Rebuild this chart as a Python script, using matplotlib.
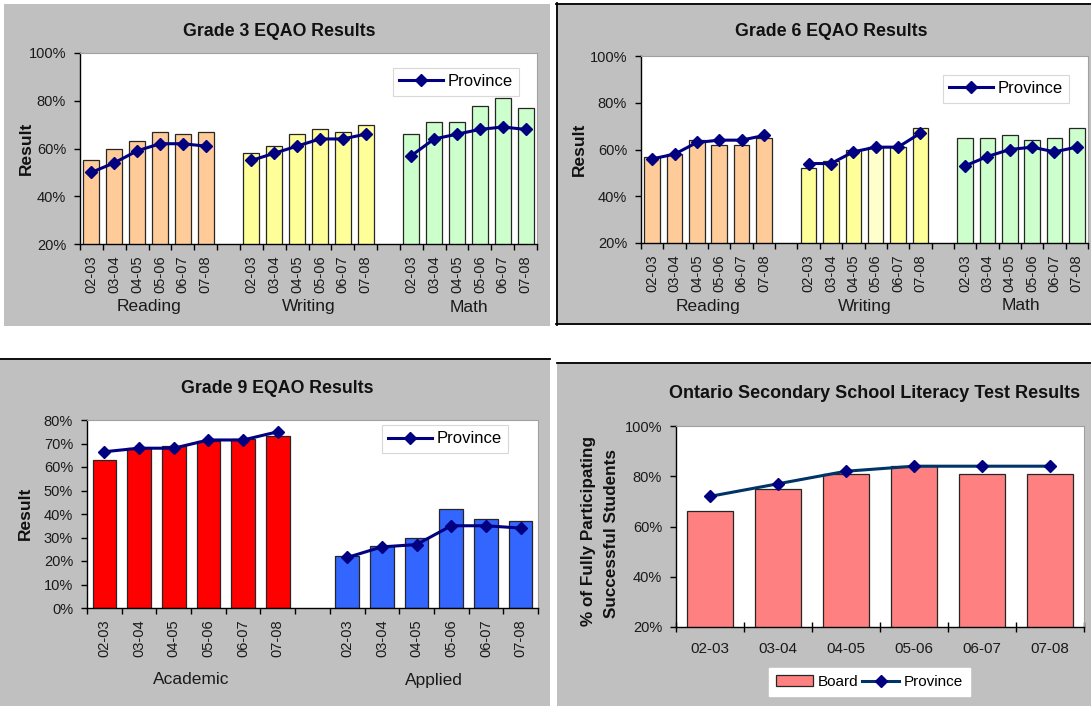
import numpy as np
import matplotlib
matplotlib.use('Agg')
import matplotlib.pyplot as plt
from matplotlib.patches import Rectangle, Patch
from matplotlib.lines import Line2D
from matplotlib.ticker import FuncFormatter, MultipleLocator
from matplotlib.transforms import Bbox

plt.rcParams['font.family'] = ['Liberation Sans', 'DejaVu Sans']

# ---------------- data ----------------
years = ['02-03', '03-04', '04-05', '05-06', '06-07', '07-08']

g3_groups = ['Reading', 'Writing', 'Math']
g3_board = [[55, 60, 63, 67, 66, 67],
            [58, 61, 66, 68, 67, 70],
            [66, 71, 71, 78, 81, 77]]
g3_prov = [[50, 54, 59, 62, 62, 61],
           [55, 58, 61, 64, 64, 66],
           [57, 64, 66, 68, 69, 68]]

g6_groups = ['Reading', 'Writing', 'Math']
g6_board = [[57, 58, 64, 62, 62, 65],
            [52, 55, 60, 61, 61, 69],
            [65, 65, 66, 64, 65, 69]]
g6_prov = [[56, 58, 63, 64, 64, 66],
           [54, 54, 59, 61, 61, 67],
           [53, 57, 60, 61, 59, 61]]

g9_groups = ['Academic', 'Applied']
g9_board = [[63, 68, 69, 71, 72, 73],
            [22, 26.5, 30, 42, 38, 37]]
g9_prov = [[66.5, 68, 68, 71.5, 71.5, 75],
           [21.5, 26, 27, 35, 35, 34]]

osslt_board = [66, 75, 81, 84, 81, 81]
osslt_prov = [72, 77, 82, 84, 84, 84]

# ---------------- styling ----------------
W, H = 1091, 706
fig = plt.figure(figsize=(W / 100, H / 100), dpi=100)
fig.patch.set_facecolor('white')

GRAY = '#C0C0C0'
NAVY = '#000080'
TXT = '#1a1a1a'
EDGE = '#262626'

c_read, c_write, c_math = '#FFCC99', '#FFFF99', '#CCFFCC'
g3_colors = [[c_read] * 6, [c_write] * 6, [c_math] * 6]
g6_colors = [[c_read] * 6,
             [c_write, c_write, c_write, '#FFFFCC', c_write, c_write],
             [c_math] * 6]
g9_colors = [['#FF0000'] * 6, ['#3366FF'] * 6]


def frect(x0, y0, x1, y1):
    return [x0 / W, 1 - y1 / H, (x1 - x0) / W, (y1 - y0) / H]


def fline(x0, y0, x1, y1, lw=1.3):
    fig.add_artist(Line2D([x0 / W, x1 / W], [1 - y0 / H, 1 - y1 / H],
                          transform=fig.transFigure, color='black', lw=lw, zorder=-1))


def panel(x0, y0, x1, y1):
    fig.add_artist(Rectangle((x0 / W, 1 - y1 / H), (x1 - x0) / W, (y1 - y0) / H,
                             transform=fig.transFigure, facecolor=GRAY,
                             edgecolor='none', zorder=-2))


def ftext(x, y, s, **kw):
    return fig.text(x / W, 1 - y / H, s, **kw)


# panels
panel(4, 4, 550, 326)
panel(556, 3, 1091, 325)
fline(556, 3.5, 1091, 3.5)
fline(556.5, 3, 556.5, 325)
fline(556, 324.5, 1091, 324.5)
panel(0, 358, 550, 706)
fline(0, 358.5, 550, 358.5)
panel(557, 362, 1091, 706)
fline(557, 362.5, 1091, 362.5)


def setup_axes(rect, nslots, ylim, step, ticklen_dir='out'):
    ax = fig.add_axes(frect(*rect))
    ax.set_facecolor('white')
    ax.set_xlim(-0.5, nslots - 0.5)
    ax.set_ylim(*ylim)
    ax.yaxis.set_major_locator(MultipleLocator(step))
    ax.yaxis.set_major_formatter(FuncFormatter(lambda v, p: f'{v:.0f}%'))
    for s in ['top', 'right']:
        ax.spines[s].set_color('#a0a0a0')
        ax.spines[s].set_linewidth(0.8)
    for s in ['left', 'bottom']:
        ax.spines[s].set_color('black')
        ax.spines[s].set_linewidth(1.0)
    ax.tick_params(axis='y', direction='out', length=4, width=1, labelsize=10.5,
                   pad=6, labelcolor=TXT)
    ax.set_xticks(np.arange(-0.5, nslots), minor=True)
    ax.tick_params(axis='x', which='minor', length=4, width=1, direction=ticklen_dir)
    ax.tick_params(axis='x', which='major', length=0, labelsize=10.5, labelcolor=TXT)
    return ax


def grouped_chart(rect, nslots, ylim, step, groups, board, prov, colors,
                  title_xy, title, ylab_xy, group_off_px, legend_xy, width=0.7):
    ax = setup_axes(rect, nslots, ylim, step)
    xt, xl = [], []
    for gi, (name, b, p, c) in enumerate(zip(groups, board, prov, colors)):
        x = np.arange(len(b)) + gi * (len(b) + 1)
        ax.bar(x, b, width=width, color=c, edgecolor=EDGE, linewidth=0.9, zorder=2)
        ax.plot(x, p, color=NAVY, lw=2.2, marker='D', ms=6, zorder=3)
        xt.extend(x)
        xl.extend(years)
        ax.annotate(name, xy=(x.mean(), 0), xycoords=('data', 'axes fraction'),
                    xytext=(0, -group_off_px * 0.72), textcoords='offset points',
                    ha='center', va='center', fontsize=12.5, color=TXT,
                    annotation_clip=False)
    ax.set_xticks(xt)
    ax.set_xticklabels(xl, rotation=90, va='top', ha='center')
    ax.tick_params(axis='x', which='major', pad=8)
    ftext(*title_xy, title, ha='center', va='center', fontsize=12.8,
          fontweight='bold', color='#111111')
    ftext(*ylab_xy, 'Result', ha='center', va='center', rotation=90,
          fontsize=12.5, fontweight='bold', color='#111111')
    h = [Line2D([], [], color=NAVY, lw=2.2, marker='D', ms=6)]
    lx1, ly0 = legend_xy
    leg = ax.legend(h, ['Province'], loc='upper right',
                    bbox_to_anchor=(lx1 / W, 1 - ly0 / H),
                    bbox_transform=fig.transFigure, frameon=True, fancybox=False,
                    edgecolor='#d8d8d8', framealpha=1, fontsize=12,
                    handlelength=2.6, borderpad=0.38, borderaxespad=0,
                    handletextpad=0.3)
    leg.get_frame().set_linewidth(0.8)
    leg.set_zorder(10)
    return ax


# Grade 3
grouped_chart((80, 53, 537, 244), 20, (20, 100), 20, g3_groups, g3_board, g3_prov,
              g3_colors, (279, 32), 'Grade 3 EQAO Results', (26, 148), 63, (519, 68))
# Grade 6
grouped_chart((641, 56, 1088, 243), 20, (20, 100), 20, g6_groups, g6_board, g6_prov,
              g6_colors, (831, 32), 'Grade 6 EQAO Results', (579, 149), 63, (1069, 75))
# Grade 9
grouped_chart((87, 420, 538, 608), 13, (0, 80), 10, g9_groups, g9_board, g9_prov,
              g9_colors, (277, 388), 'Grade 9 EQAO Results', (25, 513), 72, (508, 425),
              width=0.68)

# OSSLT
ax4 = setup_axes((676, 426, 1084, 627), 6, (20, 100), 20, ticklen_dir='inout')
ax4.tick_params(axis='x', which='minor', length=7)
x4 = np.arange(len(years))
ax4.bar(x4, osslt_board, width=0.68, color='#FF8080', edgecolor=EDGE,
        linewidth=0.9, zorder=2)
ax4.plot(x4, osslt_prov, color='#003366', lw=2.2, marker='D', ms=6,
         mfc=NAVY, mec=NAVY, zorder=3)
ax4.set_xticks(x4)
ax4.set_xticklabels(years)
ax4.tick_params(axis='x', which='major', labelsize=11, pad=11)
ftext(875, 393, 'Ontario Secondary School Literacy Test Results', ha='center',
      va='center', fontsize=13, fontweight='bold', color='#111111')
t1 = ftext(588, 531, '% of Fully Participating', ha='center', va='center',
           rotation=90, fontsize=12.3, fontweight='bold', color='#111111')
t1.set_clip_box(Bbox.from_extents(0, 0, W, H - 438))
t1.set_clip_on(True)
ftext(612, 533, 'Successful Students', ha='center', va='center', rotation=90,
      fontsize=12.3, fontweight='bold', color='#111111')
h4 = [Patch(facecolor='#FF8080', edgecolor=EDGE, linewidth=0.9),
      Line2D([], [], color='#003366', lw=2.2, marker='D', ms=6, mfc=NAVY, mec=NAVY)]
leg4 = ax4.legend(h4, ['Board', 'Province'], loc='center', ncol=2,
                  bbox_to_anchor=(869.5 / W, 1 - 682 / H),
                  bbox_transform=fig.transFigure, frameon=True, fancybox=False,
                  edgecolor='white', framealpha=1, fontsize=11,
                  handlelength=2.4, borderpad=0.45, borderaxespad=0,
                  handletextpad=0.3, columnspacing=0.3)

fig.savefig('out.png', dpi=100, facecolor='white')
